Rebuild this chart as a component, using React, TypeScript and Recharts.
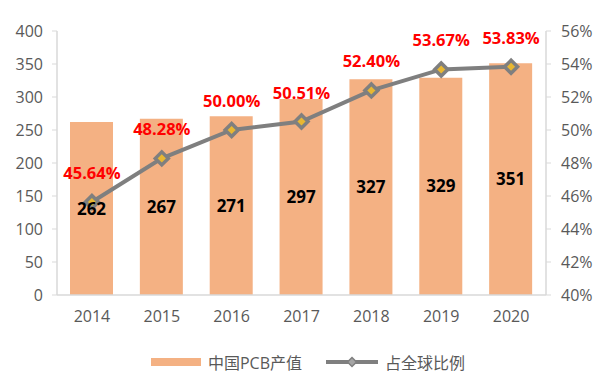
import React from "react";
import {
  ComposedChart,
  Bar,
  Line,
  XAxis,
  YAxis,
  LabelList,
  Legend,
} from "recharts";

const years = ["2014", "2015", "2016", "2017", "2018", "2019", "2020"];
const pcbOutput = [262, 267, 271, 297, 327, 329, 351];
const globalShare = [45.64, 48.28, 50.0, 50.51, 52.4, 53.67, 53.83];
const leftTicks = [0, 50, 100, 150, 200, 250, 300, 350, 400];
const rightTicks = [40, 42, 44, 46, 48, 50, 52, 54, 56];

const data = years.map((year, i) => ({
  year,
  output: pcbOutput[i],
  share: globalShare[i],
}));

const FONT = '"Open Sans", "Noto Sans CJK SC", sans-serif';
const BAR_COLOR = "#F4B183";
const LINE_COLOR = "#7F7F7F";
const AXIS_COLOR = "#D9D9D9";
const TICK_COLOR = "#595959";

function Diamond(props: any) {
  const { cx, cy } = props;
  if (cx == null || cy == null) return null;
  const s = 6.5;
  return (
    <path
      d={`M${cx},${cy - s}L${cx + s},${cy}L${cx},${cy + s}L${cx - s},${cy}Z`}
      fill="#E8B732"
      stroke={LINE_COLOR}
      strokeWidth={3.5}
    />
  );
}

function LegendContent() {
  return (
    <div
      style={{
        display: "flex",
        justifyContent: "center",
        alignItems: "center",
        fontFamily: FONT,
        fontSize: 16,
        color: TICK_COLOR,
        paddingTop: 10,
        paddingLeft: 8,
      }}
    >
      <svg width={50} height={10} style={{ marginRight: 7 }}>
        <rect x={0} y={1} width={50} height={8} fill={BAR_COLOR} />
      </svg>
      <span style={{ marginRight: 24 }}>中国PCB产值</span>
      <svg width={52} height={12} style={{ marginRight: 7 }}>
        <line x1={0} y1={6} x2={52} y2={6} stroke={LINE_COLOR} strokeWidth={4} />
        <path d="M26,1.5L30.5,6L26,10.5L21.5,6Z" fill="#A5A5A5" stroke={LINE_COLOR} strokeWidth={1.5} />
      </svg>
      <span>占全球比例</span>
    </div>
  );
}

export default function App() {
  return (
    <div style={{ position: "absolute", left: 0, top: 0, background: "#fff" }}>
      <ComposedChart
        width={608}
        height={378}
        data={data}
        margin={{ top: 31, right: 0, bottom: 0, left: 0 }}
      >
        <XAxis
          dataKey="year"
          axisLine={{ stroke: AXIS_COLOR, strokeWidth: 1.5 }}
          tickLine={false}
          tickMargin={10}
          tick={{ fill: TICK_COLOR, fontSize: 16, fontFamily: FONT }}
          height={45}
        />
        <YAxis
          yAxisId="left"
          domain={[0, 400]}
          ticks={leftTicks}
          width={57}
          axisLine={{ stroke: AXIS_COLOR, strokeWidth: 1.5 }}
          tickLine={{ stroke: AXIS_COLOR }}
          tickSize={5}
          tickMargin={9}
          tick={{ fill: TICK_COLOR, fontSize: 16, fontFamily: FONT }}
          interval={0}
        />
        <YAxis
          yAxisId="right"
          orientation="right"
          domain={[40, 56]}
          ticks={rightTicks}
          width={62}
          axisLine={{ stroke: AXIS_COLOR, strokeWidth: 1.5 }}
          tickLine={{ stroke: AXIS_COLOR }}
          tickSize={5}
          tickMargin={10}
          tickFormatter={(v: number) => `${v}%`}
          tick={{ fill: TICK_COLOR, fontSize: 16, fontFamily: FONT }}
          interval={0}
        />
        <Legend
          verticalAlign="bottom"
          height={38}
          content={<LegendContent />}
        />
        <Bar
          yAxisId="left"
          dataKey="output"
          fill={BAR_COLOR}
          barSize={43}
          isAnimationActive={false}
        >
          <LabelList
            dataKey="output"
            position="center"
            fill="#000"
            fontSize={17}
            fontWeight="bold"
            fontFamily={FONT}
          />
        </Bar>
        <Line
          yAxisId="right"
          dataKey="share"
          stroke={LINE_COLOR}
          strokeWidth={4}
          dot={<Diamond />}
          activeDot={false}
          isAnimationActive={false}
        >
          <LabelList
            dataKey="share"
            position="top"
            offset={23}
            fill="#FF0000"
            fontSize={16.5}
            fontWeight="bold"
            fontFamily={FONT}
            formatter={(v: any) => `${Number(v).toFixed(2)}%`}
          />
        </Line>
      </ComposedChart>
    </div>
  );
}
